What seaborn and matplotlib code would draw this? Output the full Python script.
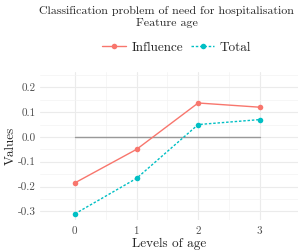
import pandas as pd
import seaborn as sns
import matplotlib.pyplot as plt

# Data
levels = [0, 1, 2, 3]
influence = [-0.185, -0.05, 0.137, 0.12]
total = [-0.31, -0.167, 0.05, 0.07]

df = pd.DataFrame({
    'level': levels * 2,
    'value': influence + total,
    'series': ['Influence'] * 4 + ['Total'] * 4,
})

sns.set_theme(style='whitegrid')
plt.rcParams['font.family'] = ['cmr10', 'DejaVu Serif']
plt.rcParams['mathtext.fontset'] = 'cm'
plt.rcParams['axes.unicode_minus'] = False
plt.rcParams['axes.formatter.use_mathtext'] = True

fig = plt.figure(figsize=(3, 2.5), dpi=100)
ax = fig.add_axes([0.133, 0.12, 0.86, 0.592])

palette = {'Influence': '#F8766D', 'Total': '#00BFC4'}
ax.plot([0, 3], [0, 0], color='#999999', lw=1, zorder=1)
sns.lineplot(data=df, x='level', y='value', hue='series', style='series',
             palette=palette, dashes={'Influence': '', 'Total': (1.8, 1.3)},
             markers={'Influence': 'o', 'Total': 'o'}, markersize=4,
             markeredgewidth=0, lw=1, ax=ax)

ax.set_xlim(-0.57, 3.62)
ax.set_ylim(-0.335, 0.262)
ax.set_xticks(levels)
ax.set_yticks([-0.3, -0.2, -0.1, 0.0, 0.1, 0.2])
ax.set_yticklabels(['-0.3', '-0.2', '-0.1', '0.0', '0.1', '0.2'])
ax.set_xticks([0.5, 1.5, 2.5], minor=True)
ax.set_yticks([-0.25, -0.15, -0.05, 0.05, 0.15, 0.25], minor=True)
ax.grid(which='major', color='#ebebeb', lw=0.8)
ax.grid(which='minor', color='#f3f3f3', lw=0.5)
for s in ax.spines.values():
    s.set_visible(False)
ax.tick_params(axis='both', length=0, labelsize=8, colors='#4d4d4d', pad=3)
ax.set_xlabel('Levels of age', fontsize=9.5, labelpad=1)
ax.set_ylabel('Values', fontsize=9.5, labelpad=1)

fig.text(0.556, 0.958, 'Classification problem of need for hospitalisation',
         ha='center', va='center', fontsize=8.6)
fig.text(0.556, 0.91, 'Feature age', ha='center', va='center', fontsize=8.6)

handles, labels = ax.get_legend_handles_labels()
ax.legend(handles, labels, loc='center', bbox_to_anchor=(0.53, 1.165),
          ncol=2, frameon=False, fontsize=9.5, handlelength=1.8,
          columnspacing=0.6, handletextpad=0.4, borderaxespad=0)

fig.savefig('out.png', dpi=100)
